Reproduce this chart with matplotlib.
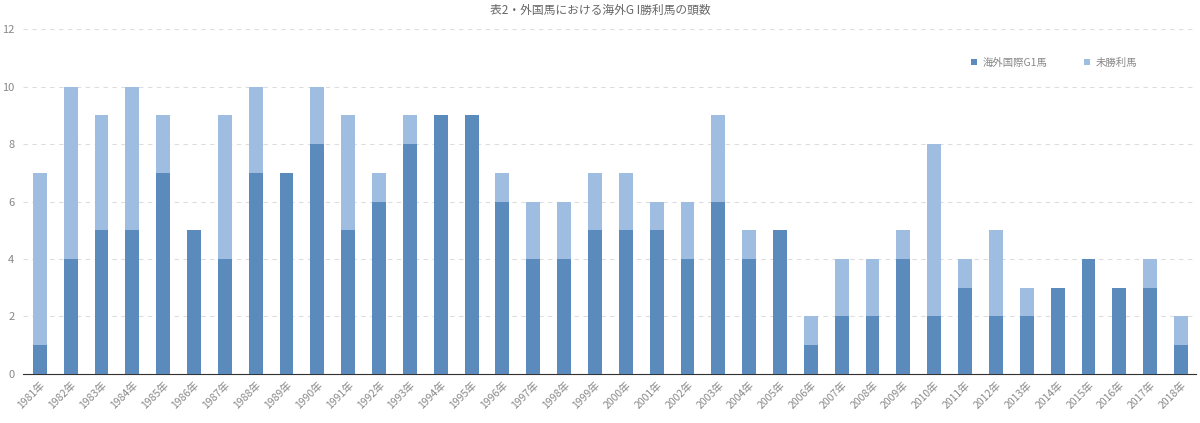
import numpy as np
import matplotlib.pyplot as plt

plt.rcParams['font.family'] = ['Noto Sans CJK JP', 'DejaVu Sans']

# data
years = [f"{y}年" for y in range(1981, 2019)]
g1_winners = [1, 4, 5, 5, 7, 5, 4, 7, 7, 8, 5, 6, 8, 9, 9, 6, 4, 4, 5, 5,
              5, 4, 6, 4, 5, 1, 2, 2, 4, 2, 3, 2, 2, 3, 4, 3, 3, 1]
non_winners = [6, 6, 4, 5, 2, 0, 5, 3, 0, 2, 4, 1, 1, 0, 0, 1, 2, 2, 2, 2,
               1, 2, 3, 1, 0, 1, 2, 2, 1, 6, 1, 3, 1, 0, 0, 0, 1, 1]

dark = "#5b8bbd"
light = "#9fbde0"
grey = "#888888"

fig = plt.figure(figsize=(12, 4.23), dpi=100)
ax = fig.add_axes([0.019, 0.116, 0.978, 0.815])

x = np.arange(len(years))
ax.bar(x, g1_winners, width=0.45, color=dark, label="海外国際G1馬", zorder=3)
ax.bar(x, non_winners, width=0.45, bottom=g1_winners, color=light,
       label="未勝利馬", zorder=3)

ax.set_xlim(-0.55, 37.5)
ax.set_ylim(0, 12)
ax.set_yticks(range(0, 13, 2))
ax.yaxis.grid(True, linestyle=(0, (4, 4)), color="#dddddd", linewidth=0.8, zorder=0)

ax.set_xticks(x)
ax.set_xticklabels(years, rotation=45, ha="right", rotation_mode="anchor",
                   fontsize=7.5, color=grey)
ax.tick_params(axis="y", length=0, labelsize=8, labelcolor=grey, pad=6)
ax.tick_params(axis="x", length=0, pad=4)

for s in ["top", "right", "left"]:
    ax.spines[s].set_visible(False)
ax.spines["bottom"].set_color("#333333")
ax.spines["bottom"].set_linewidth(0.8)

fig.suptitle("表2・外国馬における海外G I勝利馬の頭数", y=0.99, fontsize=8.5, color="#666666")

ax.legend(loc="upper left", bbox_to_anchor=(0.80, 0.945), ncol=2, frameon=False,
          fontsize=7.5, labelcolor=grey, handlelength=0.6, handleheight=0.6,
          columnspacing=3.5, handletextpad=0.5)

fig.savefig("out.png", dpi=100)
